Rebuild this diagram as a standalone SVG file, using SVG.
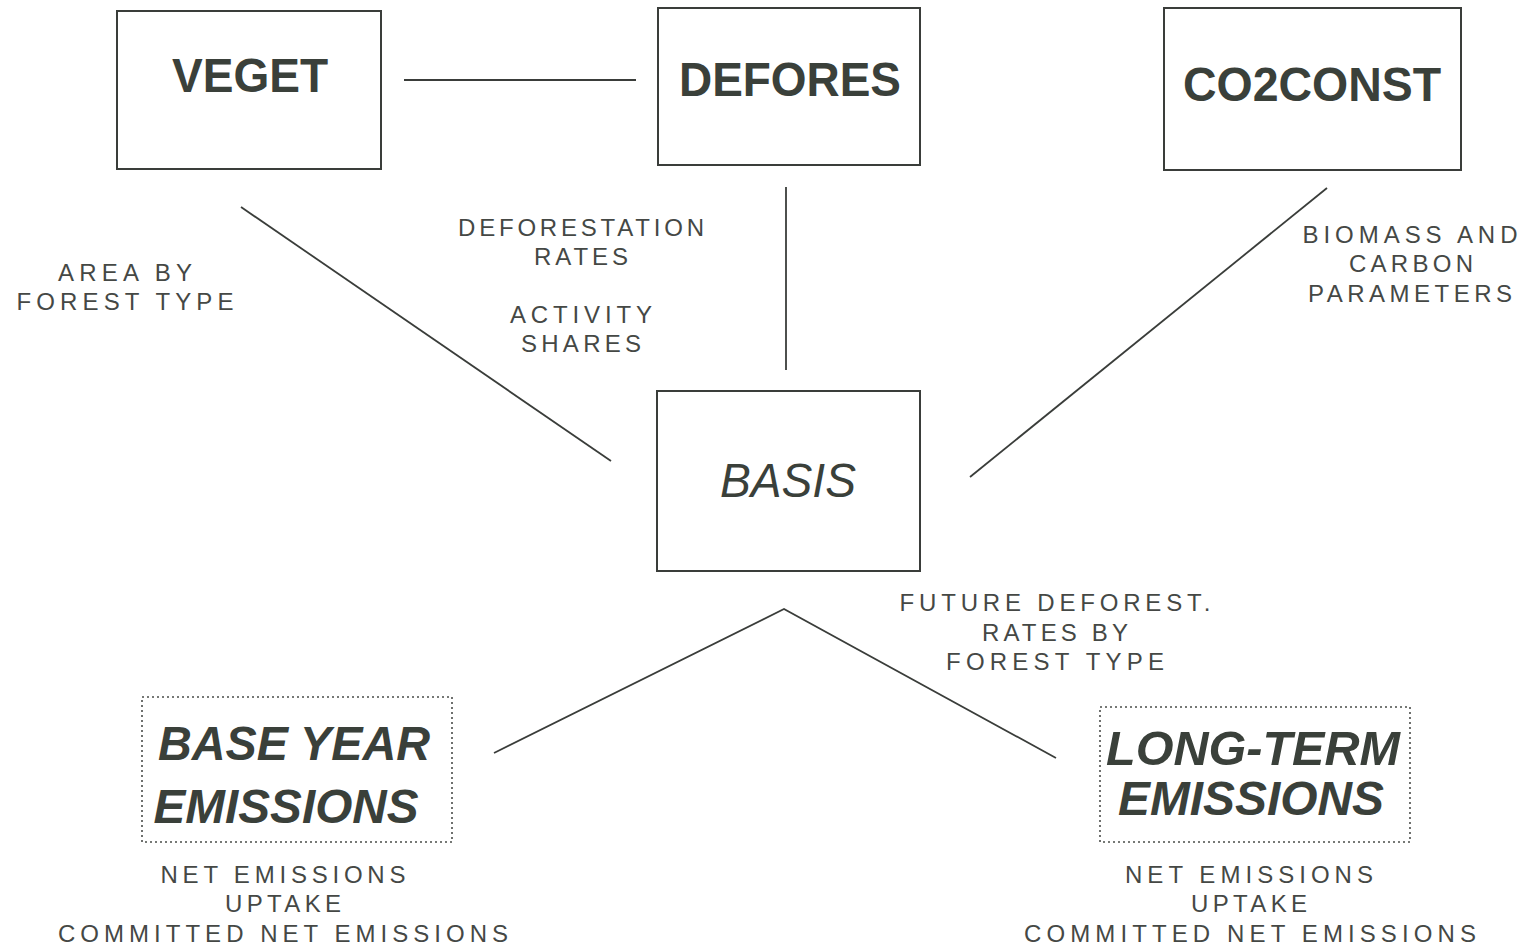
<svg xmlns="http://www.w3.org/2000/svg" width="1525" height="947" viewBox="0 0 1525 947">
<style>
.box{fill:none;stroke:#3a3d3a;stroke-width:2}
.dot{fill:none;stroke:#4a4d4a;stroke-width:1.6;stroke-dasharray:2 3}
.ln{stroke:#3a3d3a;stroke-width:1.8;fill:none}
.big{font-family:"Liberation Sans",Arial,sans-serif;font-weight:bold;font-size:48px;fill:#3a403a;text-anchor:middle}
.it{font-style:italic}
.lab{font-family:"Liberation Sans",Arial,sans-serif;font-size:24px;fill:#454845;text-anchor:middle}
</style>
<rect width="1525" height="947" fill="#ffffff"/>
<g id="connectors">
<line class="ln" x1="404" y1="80" x2="636" y2="80"/>
<line class="ln" x1="241" y1="207" x2="611" y2="461"/>
<line class="ln" x1="786" y1="187" x2="786" y2="370"/>
<line class="ln" x1="1327" y1="188" x2="970" y2="477"/>
<polyline class="ln" points="494,753 784,609 1056,758"/>
</g>
<g id="veget">
<rect class="box" x="117" y="11" width="264" height="158"/>
<text class="big" x="250" y="92" textLength="156" lengthAdjust="spacingAndGlyphs">VEGET</text>
</g>
<g id="defores">
<rect class="box" x="658" y="8" width="262" height="157"/>
<text class="big" x="790" y="96" textLength="222" lengthAdjust="spacingAndGlyphs">DEFORES</text>
</g>
<g id="co2const">
<rect class="box" x="1164" y="8" width="297" height="162"/>
<text class="big" x="1312" y="101" font-size="50" textLength="258" lengthAdjust="spacingAndGlyphs">CO2CONST</text>
</g>
<g id="basis">
<rect class="box" x="657" y="391" width="263" height="180"/>
<text class="big it" x="788" y="497" style="font-weight:normal" textLength="136" lengthAdjust="spacingAndGlyphs">BASIS</text>
</g>
<g id="base-year">
<rect class="dot" x="142" y="697" width="310" height="145"/>
<text class="big it" x="294" y="760" textLength="272" lengthAdjust="spacingAndGlyphs">BASE YEAR</text>
<text class="big it" x="286" y="823" textLength="265" lengthAdjust="spacingAndGlyphs">EMISSIONS</text>
</g>
<g id="long-term">
<rect class="dot" x="1100" y="707" width="310" height="135"/>
<text class="big it" x="1253" y="765" textLength="294" lengthAdjust="spacingAndGlyphs">LONG-TERM</text>
<text class="big it" x="1251" y="815" textLength="266" lengthAdjust="spacingAndGlyphs">EMISSIONS</text>
</g>
<g id="labels">
<text class="lab" x="125" y="281" textLength="134" lengthAdjust="spacing">AREA BY</text>
<text class="lab" x="125" y="310" textLength="217" lengthAdjust="spacing">FOREST TYPE</text>
<text class="lab" x="581" y="236" textLength="246" lengthAdjust="spacing">DEFORESTATION</text>
<text class="lab" x="581" y="265" textLength="94" lengthAdjust="spacing">RATES</text>
<text class="lab" x="581" y="323" textLength="142" lengthAdjust="spacing">ACTIVITY</text>
<text class="lab" x="581" y="352" textLength="120" lengthAdjust="spacing">SHARES</text>
<text class="lab" x="1410" y="243" textLength="215" lengthAdjust="spacing">BIOMASS AND</text>
<text class="lab" x="1411" y="272" textLength="124" lengthAdjust="spacing">CARBON</text>
<text class="lab" x="1410" y="302" textLength="204" lengthAdjust="spacing">PARAMETERS</text>
<text class="lab" x="1055" y="611" textLength="311" lengthAdjust="spacing">FUTURE DEFOREST.</text>
<text class="lab" x="1055" y="641" textLength="146" lengthAdjust="spacing">RATES BY</text>
<text class="lab" x="1055" y="670" textLength="218" lengthAdjust="spacing">FOREST TYPE</text>
<text class="lab" x="283" y="883" textLength="245" lengthAdjust="spacing">NET EMISSIONS</text>
<text class="lab" x="283" y="912" textLength="116" lengthAdjust="spacing">UPTAKE</text>
<text class="lab" x="283" y="942" textLength="450" lengthAdjust="spacing">COMMITTED NET EMISSIONS</text>
<text class="lab" x="1249" y="883" textLength="248" lengthAdjust="spacing">NET EMISSIONS</text>
<text class="lab" x="1249" y="912" textLength="116" lengthAdjust="spacing">UPTAKE</text>
<text class="lab" x="1250" y="942" textLength="452" lengthAdjust="spacing">COMMITTED NET EMISSIONS</text>
</g>
</svg>
